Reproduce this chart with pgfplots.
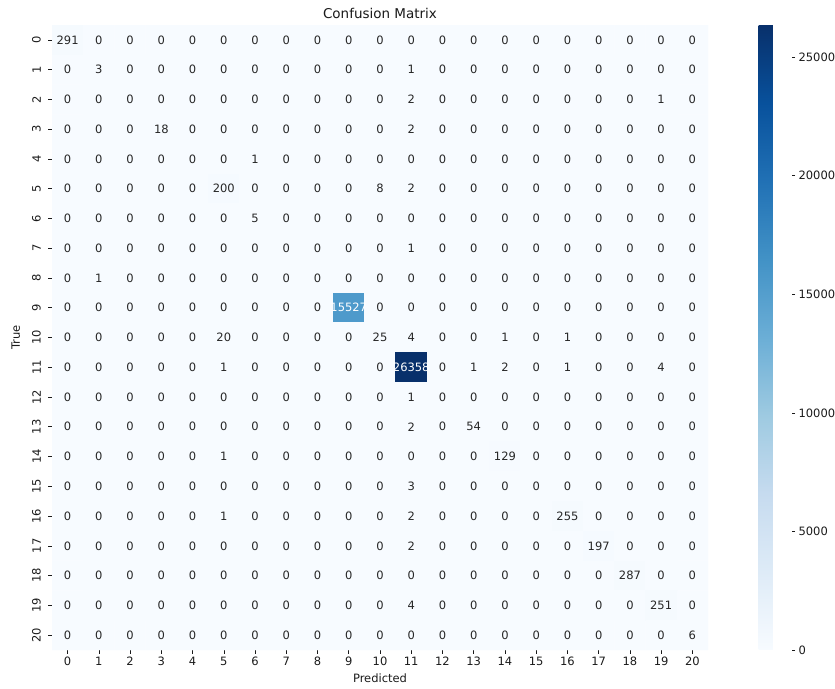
\documentclass[border=0pt]{standalone}
\usepackage{pgfplots}
\usepackage{fontspec}
\setmainfont{DejaVu Sans}
\pgfplotsset{compat=1.18,
  /pgf/number format/1000 sep={},
  /pgf/number format/assume math mode=true}
\definecolor{celltext}{HTML}{262626}
\definecolor{labeltext}{HTML}{1a1a1a}
\begin{document}
\begin{tikzpicture}
\path[use as bounding box] (0pt,0pt) rectangle (835pt,688pt);
\begin{axis}[
  at={(52pt,38pt)}, anchor=south west,
  scale only axis, width=656pt, height=625pt,
  xmin=-0.5, xmax=20.5, ymin=-0.5, ymax=20.5,
  y dir=reverse,
  xtick={0,...,20}, ytick={0,...,20},
  tick pos=left,
  axis line style={draw=none},
  tick align=outside, major tick length=3.5pt,
  tick style={labeltext, line width=0.6pt},
  tick label style={font=\fontsize{11.5}{13}\selectfont, text=labeltext},
  yticklabel style={rotate=90, anchor=south, inner ysep=7.5pt},
  title={Confusion Matrix},
  title style={font=\fontsize{13.5}{16}\selectfont, text=labeltext, yshift=-3pt},
  xlabel={Predicted}, ylabel={True},
  label style={font=\fontsize{11.5}{13}\selectfont, text=labeltext},
  xlabel style={yshift=-1pt},
  ylabel style={yshift=1pt},
  colormap={sbblues}{rgb255=(247,251,255) rgb255=(222,235,247) rgb255=(198,219,239) rgb255=(158,202,225) rgb255=(107,174,214) rgb255=(66,146,198) rgb255=(33,113,181) rgb255=(8,81,156) rgb255=(8,48,107)},
  point meta min=0, point meta max=26358,
  colorbar,
  colorbar style={
    scale only axis,
    width=33pt,
    at={(parent axis.north east)}, anchor=north west, xshift=42pt,
    ytick={0,5000,...,25000},
    scaled y ticks=false,
    axis line style={draw=none},
    tick pos=right,
    tick align=outside, major tick length=3.5pt,
    tick style={labeltext, line width=0.6pt},
    yticklabel style={font=\fontsize{11.5}{13}\selectfont, text=labeltext},
  },
]
\addplot[matrix plot*, mesh/cols=21, mesh/rows=21, point meta=explicit,
  nodes near coords={\ifdim\pgfplotspointmetatransformed pt>450pt\color{white}\fi\pgfmathprintnumber{\pgfplotspointmeta}},
  nodes near coords align=center,
  every node near coord/.append style={font=\fontsize{11.5}{13}\selectfont, text=celltext, anchor=center},
] coordinates {
(0,0)[291] (1,0)[0] (2,0)[0] (3,0)[0] (4,0)[0] (5,0)[0] (6,0)[0] (7,0)[0] (8,0)[0] (9,0)[0] (10,0)[0] (11,0)[0] (12,0)[0] (13,0)[0] (14,0)[0] (15,0)[0] (16,0)[0] (17,0)[0] (18,0)[0] (19,0)[0] (20,0)[0]
(0,1)[0] (1,1)[3] (2,1)[0] (3,1)[0] (4,1)[0] (5,1)[0] (6,1)[0] (7,1)[0] (8,1)[0] (9,1)[0] (10,1)[0] (11,1)[1] (12,1)[0] (13,1)[0] (14,1)[0] (15,1)[0] (16,1)[0] (17,1)[0] (18,1)[0] (19,1)[0] (20,1)[0]
(0,2)[0] (1,2)[0] (2,2)[0] (3,2)[0] (4,2)[0] (5,2)[0] (6,2)[0] (7,2)[0] (8,2)[0] (9,2)[0] (10,2)[0] (11,2)[2] (12,2)[0] (13,2)[0] (14,2)[0] (15,2)[0] (16,2)[0] (17,2)[0] (18,2)[0] (19,2)[1] (20,2)[0]
(0,3)[0] (1,3)[0] (2,3)[0] (3,3)[18] (4,3)[0] (5,3)[0] (6,3)[0] (7,3)[0] (8,3)[0] (9,3)[0] (10,3)[0] (11,3)[2] (12,3)[0] (13,3)[0] (14,3)[0] (15,3)[0] (16,3)[0] (17,3)[0] (18,3)[0] (19,3)[0] (20,3)[0]
(0,4)[0] (1,4)[0] (2,4)[0] (3,4)[0] (4,4)[0] (5,4)[0] (6,4)[1] (7,4)[0] (8,4)[0] (9,4)[0] (10,4)[0] (11,4)[0] (12,4)[0] (13,4)[0] (14,4)[0] (15,4)[0] (16,4)[0] (17,4)[0] (18,4)[0] (19,4)[0] (20,4)[0]
(0,5)[0] (1,5)[0] (2,5)[0] (3,5)[0] (4,5)[0] (5,5)[200] (6,5)[0] (7,5)[0] (8,5)[0] (9,5)[0] (10,5)[8] (11,5)[2] (12,5)[0] (13,5)[0] (14,5)[0] (15,5)[0] (16,5)[0] (17,5)[0] (18,5)[0] (19,5)[0] (20,5)[0]
(0,6)[0] (1,6)[0] (2,6)[0] (3,6)[0] (4,6)[0] (5,6)[0] (6,6)[5] (7,6)[0] (8,6)[0] (9,6)[0] (10,6)[0] (11,6)[0] (12,6)[0] (13,6)[0] (14,6)[0] (15,6)[0] (16,6)[0] (17,6)[0] (18,6)[0] (19,6)[0] (20,6)[0]
(0,7)[0] (1,7)[0] (2,7)[0] (3,7)[0] (4,7)[0] (5,7)[0] (6,7)[0] (7,7)[0] (8,7)[0] (9,7)[0] (10,7)[0] (11,7)[1] (12,7)[0] (13,7)[0] (14,7)[0] (15,7)[0] (16,7)[0] (17,7)[0] (18,7)[0] (19,7)[0] (20,7)[0]
(0,8)[0] (1,8)[1] (2,8)[0] (3,8)[0] (4,8)[0] (5,8)[0] (6,8)[0] (7,8)[0] (8,8)[0] (9,8)[0] (10,8)[0] (11,8)[0] (12,8)[0] (13,8)[0] (14,8)[0] (15,8)[0] (16,8)[0] (17,8)[0] (18,8)[0] (19,8)[0] (20,8)[0]
(0,9)[0] (1,9)[0] (2,9)[0] (3,9)[0] (4,9)[0] (5,9)[0] (6,9)[0] (7,9)[0] (8,9)[0] (9,9)[15527] (10,9)[0] (11,9)[0] (12,9)[0] (13,9)[0] (14,9)[0] (15,9)[0] (16,9)[0] (17,9)[0] (18,9)[0] (19,9)[0] (20,9)[0]
(0,10)[0] (1,10)[0] (2,10)[0] (3,10)[0] (4,10)[0] (5,10)[20] (6,10)[0] (7,10)[0] (8,10)[0] (9,10)[0] (10,10)[25] (11,10)[4] (12,10)[0] (13,10)[0] (14,10)[1] (15,10)[0] (16,10)[1] (17,10)[0] (18,10)[0] (19,10)[0] (20,10)[0]
(0,11)[0] (1,11)[0] (2,11)[0] (3,11)[0] (4,11)[0] (5,11)[1] (6,11)[0] (7,11)[0] (8,11)[0] (9,11)[0] (10,11)[0] (11,11)[26358] (12,11)[0] (13,11)[1] (14,11)[2] (15,11)[0] (16,11)[1] (17,11)[0] (18,11)[0] (19,11)[4] (20,11)[0]
(0,12)[0] (1,12)[0] (2,12)[0] (3,12)[0] (4,12)[0] (5,12)[0] (6,12)[0] (7,12)[0] (8,12)[0] (9,12)[0] (10,12)[0] (11,12)[1] (12,12)[0] (13,12)[0] (14,12)[0] (15,12)[0] (16,12)[0] (17,12)[0] (18,12)[0] (19,12)[0] (20,12)[0]
(0,13)[0] (1,13)[0] (2,13)[0] (3,13)[0] (4,13)[0] (5,13)[0] (6,13)[0] (7,13)[0] (8,13)[0] (9,13)[0] (10,13)[0] (11,13)[2] (12,13)[0] (13,13)[54] (14,13)[0] (15,13)[0] (16,13)[0] (17,13)[0] (18,13)[0] (19,13)[0] (20,13)[0]
(0,14)[0] (1,14)[0] (2,14)[0] (3,14)[0] (4,14)[0] (5,14)[1] (6,14)[0] (7,14)[0] (8,14)[0] (9,14)[0] (10,14)[0] (11,14)[0] (12,14)[0] (13,14)[0] (14,14)[129] (15,14)[0] (16,14)[0] (17,14)[0] (18,14)[0] (19,14)[0] (20,14)[0]
(0,15)[0] (1,15)[0] (2,15)[0] (3,15)[0] (4,15)[0] (5,15)[0] (6,15)[0] (7,15)[0] (8,15)[0] (9,15)[0] (10,15)[0] (11,15)[3] (12,15)[0] (13,15)[0] (14,15)[0] (15,15)[0] (16,15)[0] (17,15)[0] (18,15)[0] (19,15)[0] (20,15)[0]
(0,16)[0] (1,16)[0] (2,16)[0] (3,16)[0] (4,16)[0] (5,16)[1] (6,16)[0] (7,16)[0] (8,16)[0] (9,16)[0] (10,16)[0] (11,16)[2] (12,16)[0] (13,16)[0] (14,16)[0] (15,16)[0] (16,16)[255] (17,16)[0] (18,16)[0] (19,16)[0] (20,16)[0]
(0,17)[0] (1,17)[0] (2,17)[0] (3,17)[0] (4,17)[0] (5,17)[0] (6,17)[0] (7,17)[0] (8,17)[0] (9,17)[0] (10,17)[0] (11,17)[2] (12,17)[0] (13,17)[0] (14,17)[0] (15,17)[0] (16,17)[0] (17,17)[197] (18,17)[0] (19,17)[0] (20,17)[0]
(0,18)[0] (1,18)[0] (2,18)[0] (3,18)[0] (4,18)[0] (5,18)[0] (6,18)[0] (7,18)[0] (8,18)[0] (9,18)[0] (10,18)[0] (11,18)[0] (12,18)[0] (13,18)[0] (14,18)[0] (15,18)[0] (16,18)[0] (17,18)[0] (18,18)[287] (19,18)[0] (20,18)[0]
(0,19)[0] (1,19)[0] (2,19)[0] (3,19)[0] (4,19)[0] (5,19)[0] (6,19)[0] (7,19)[0] (8,19)[0] (9,19)[0] (10,19)[0] (11,19)[4] (12,19)[0] (13,19)[0] (14,19)[0] (15,19)[0] (16,19)[0] (17,19)[0] (18,19)[0] (19,19)[251] (20,19)[0]
(0,20)[0] (1,20)[0] (2,20)[0] (3,20)[0] (4,20)[0] (5,20)[0] (6,20)[0] (7,20)[0] (8,20)[0] (9,20)[0] (10,20)[0] (11,20)[0] (12,20)[0] (13,20)[0] (14,20)[0] (15,20)[0] (16,20)[0] (17,20)[0] (18,20)[0] (19,20)[0] (20,20)[6]
};
\end{axis}
\end{tikzpicture}
\end{document}
